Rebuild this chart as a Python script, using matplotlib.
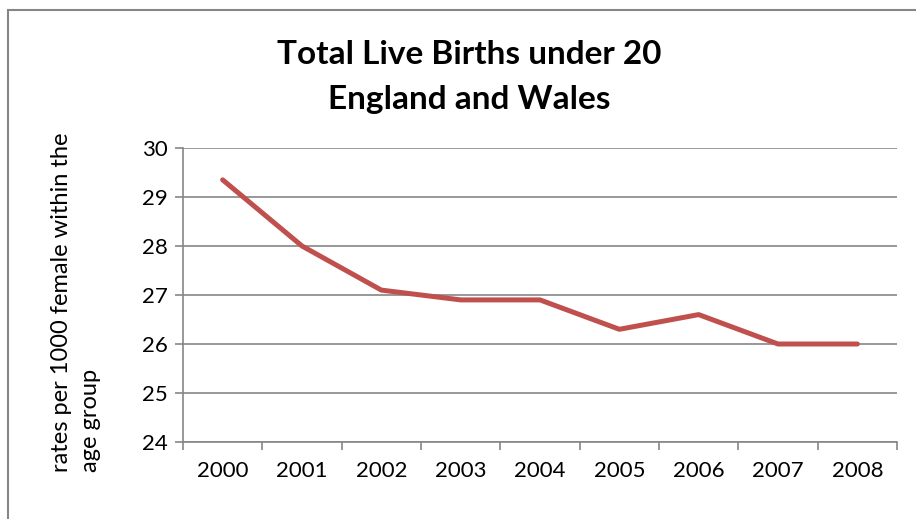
import matplotlib
matplotlib.use("Agg")
from matplotlib import pyplot as plt
from matplotlib.patches import Rectangle

years = ["2000", "2001", "2002", "2003", "2004", "2005", "2006", "2007", "2008"]
rates = [29.35, 28.0, 27.1, 26.9, 26.9, 26.3, 26.6, 26.0, 26.0]
y_ticks = [24, 25, 26, 27, 28, 29, 30]

plt.rcParams['font.family'] = ['Lato', 'DejaVu Sans']

fig = plt.figure(figsize=(9.16, 5.19), dpi=100)
ax = fig.add_axes([183/916, 77/519, 714/916, 294/519])

grid_col = '#868686'
x = list(range(len(years)))
ax.plot(x, rates, color='#C0504D', linewidth=3.6, solid_capstyle='round', solid_joinstyle='round', zorder=3)

ax.set_xlim(-0.5, len(years) - 0.5)
ax.set_ylim(24, 30)
ax.set_yticks(y_ticks)
ax.set_yticklabels([str(v) for v in y_ticks], fontsize=16)
ax.set_xticks(x)
ax.set_xticklabels(years, fontsize=16)
ax.set_xticks([i - 0.5 for i in range(len(years) + 1)], minor=True)

ax.tick_params(axis='x', which='major', length=0, pad=14)
ax.tick_params(axis='x', which='minor', length=6, width=1.2, color=grid_col, direction='out')
ax.tick_params(axis='y', which='major', length=6, width=1.2, color=grid_col, direction='out', pad=5)

ax.grid(axis='y', color=grid_col, linewidth=1.2)
ax.set_axisbelow(True)
for s in ['top', 'right']:
    ax.spines[s].set_visible(False)
for s in ['left', 'bottom']:
    ax.spines[s].set_color(grid_col)
    ax.spines[s].set_linewidth(1.2)

# y label placed by hand, two lines left-aligned (bottom-aligned once rotated)
fig.text(76/916, 1 - 302/519, "rates per 1000 female within the\nage group", rotation=90,
         ha='center', va='center', fontsize=17, multialignment='left', linespacing=1.45)

fig.text(469/916, 1 - 55/519, "Total Live Births under 20", ha='center', va='center',
         fontsize=24, fontweight='bold')
fig.text(469/916, 1 - 100/519, "England and Wales", ha='center', va='center',
         fontsize=24, fontweight='bold')

fig.patches.append(Rectangle((8/916, -0.1), 1.2, 1 - 10/519 + 0.1, transform=fig.transFigure,
                             fill=False, edgecolor='#868686', linewidth=1.5))

fig.savefig("out.png", dpi=100)
